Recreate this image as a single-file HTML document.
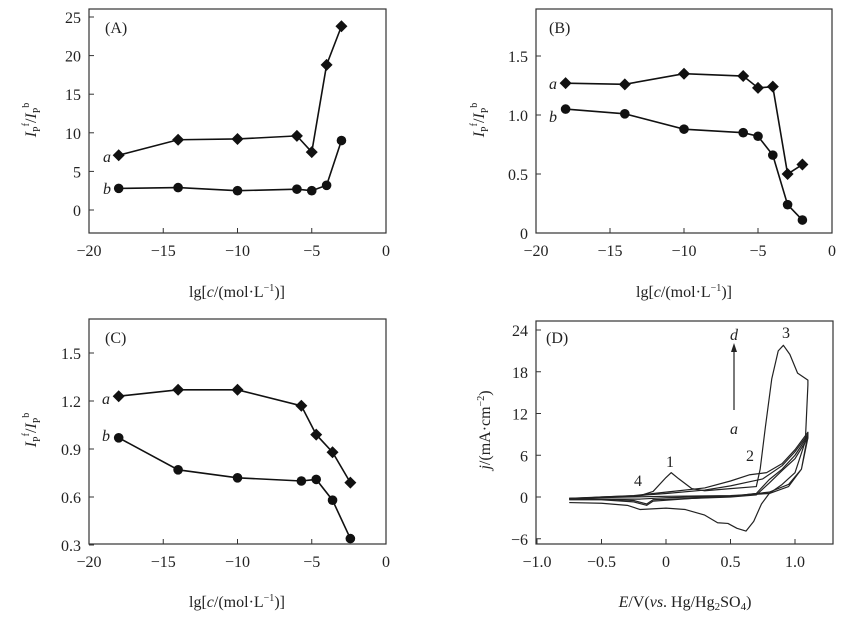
<!DOCTYPE html>
<html><head><meta charset="utf-8"><style>
html,body{margin:0;padding:0;background:#fff;}
svg{display:block;font-family:"Liberation Serif",serif;}
text{fill:#222;}
</style></head><body>
<svg id="fig" width="858" height="620" viewBox="0 0 858 620"></svg>
<script>
// ---- Data ----
const xCats = [-18, -14, -10, -6, -5, -4, -3];
const aA = [7.1, 9.1, 9.2, 9.6, 7.5, 18.8, 23.8];
const aB = [2.8, 2.9, 2.5, 2.7, 2.5, 3.2, 9.0];
const bX = [-18, -14, -10, -6, -5, -4, -3, -2];
const bA = [1.27, 1.26, 1.35, 1.33, 1.23, 1.24, 0.50, 0.58];
const bB = [1.05, 1.01, 0.88, 0.85, 0.82, 0.66, 0.24, 0.11];
const cX = [-18, -14, -10, -5.7, -4.7, -3.6, -2.4];
const cA = [1.23, 1.27, 1.27, 1.17, 0.99, 0.88, 0.69];
const cB = [0.97, 0.77, 0.72, 0.70, 0.71, 0.58, 0.34];
const xTicksLg = [-20, -15, -10, -5, 0];
const yTicksA = [0, 5, 10, 15, 20, 25];
const yTicksB = [0, 0.5, 1.0, 1.5];
const yTicksC = [0.3, 0.6, 0.9, 1.2, 1.5];
const xTicksD = [-1.0, -0.5, 0, 0.5, 1.0];
const yTicksD = [-6, 0, 6, 12, 18, 24];
const cvCurveA = [[-0.75,-0.2],[-0.3,0],[0,0.1],[0.5,0.2],[0.8,0.5],[0.95,1.5],[1.05,4],[1.1,9],[1.1,8.5],[1.05,4],[0.95,1.8],[0.8,0.7],[0.5,0.1],[0,-0.1],[-0.2,-0.3],[-0.5,-0.3],[-0.75,-0.3]];
const cvCurveB = [[-0.75,-0.2],[-0.25,0.1],[-0.15,0.3],[0,0.5],[0.3,1.0],[0.5,1.6],[0.65,2.2],[0.75,2.6],[0.9,4.5],[1.0,6.5],[1.1,9],[1.1,8.5],[1.0,5.5],[0.9,3.8],[0.8,2.0],[0.7,0.3],[0.5,0],[0.2,-0.2],[-0.1,-0.4],[-0.15,-1.0],[-0.25,-0.5],[-0.5,-0.3],[-0.75,-0.3]];
const cvCurveC = [[-0.75,-0.2],[-0.25,0.2],[-0.15,0.4],[0,0.7],[0.3,1.3],[0.5,2.3],[0.65,3.2],[0.78,3.5],[0.9,4.8],[1.0,6.8],[1.1,9.3],[1.1,8.8],[1.0,6.0],[0.9,4.0],[0.8,2.5],[0.7,0.5],[0.5,0.1],[0.2,-0.2],[-0.1,-0.6],[-0.15,-1.2],[-0.25,-0.7],[-0.5,-0.4],[-0.75,-0.4]];
const cvCurveD = [[-0.75,-0.3],[-0.5,0],[-0.2,0.2],[-0.1,0.8],[0,2.8],[0.04,3.5],[0.1,2.6],[0.2,1.2],[0.3,0.9],[0.5,1.2],[0.7,1.5],[0.73,4],[0.77,10],[0.82,17],[0.87,21],[0.91,21.8],[0.96,20.5],[1.02,17.8],[1.1,16.8],[1.1,16.1],[1.08,8],[1.0,3.5],[0.9,1.8],[0.8,0.5],[0.74,-1],[0.68,-3.5],[0.62,-4.9],[0.55,-4.5],[0.48,-3.8],[0.4,-3.7],[0.3,-2.6],[0.15,-1.8],[0,-1.6],[-0.2,-1.8],[-0.3,-1.2],[-0.5,-0.9],[-0.75,-0.8]];

const NS = "http://www.w3.org/2000/svg";
const svg = document.getElementById('fig');
function mk(tag, attrs, parent){const e=document.createElementNS(NS,tag);for(const k in attrs)e.setAttribute(k,attrs[k]);(parent||svg).appendChild(e);return e;}
function lin(d0,d1,p0,p1){return v=>p0+(v-d0)*(p1-p0)/(d1-d0);}

function panel(name, box, sx, sy, xt, yt, xfmt, yfmt){
  const g = mk('g',{});
  
  
  const r = mk('rect',{x:box[0],y:box[1],width:box[2]-box[0],height:box[3]-box[1],fill:'none',stroke:'#333','stroke-width':1.2},g);
  
  
  xt.forEach(v=>{const x=sx(v);
    mk('line',{x1:x,x2:x,y1:box[3],y2:box[3]-5,stroke:'#333'},g);
    const t=mk('text',{x:x,y:box[3]+23,'text-anchor':'middle','font-size':16},g);
    t.textContent=xfmt(v);
    
    });
  yt.forEach(v=>{const y=sy(v);
    mk('line',{x1:box[0],x2:box[0]+5,y1:y,y2:y,stroke:'#333'},g);
    const t=mk('text',{x:box[0]-8,y:y+6,'text-anchor':'end','font-size':16},g);
    t.textContent=yfmt(v);
    
    });
  return g;
}
const neg = v => (v<0?'\u2212':'')+Math.abs(v);
function series(g, xs, ys, sx, sy, marker, name){
  const pts = xs.map((x,i)=>sx(x)+','+sy(ys[i])).join(' ');
  const l = mk('polyline',{points:pts,fill:'none',stroke:'#111','stroke-width':1.6},g);
  
  
  xs.forEach((x,i)=>{const px=sx(x),py=sy(ys[i]);let m;
    if(marker==='d') m=mk('polygon',{points:`${px},${py-6} ${px+6},${py} ${px},${py+6} ${px-6},${py}`,fill:'#111'},g);
    else m=mk('circle',{cx:px,cy:py,r:4.8,fill:'#111'},g);
    
    });
}
function txt(g,x,y,s,attrs,name){const t=mk('text',Object.assign({x:x,y:y,'font-size':16},attrs||{}),g);t.innerHTML=s;
  
  return t;}
function ylab(g,x,y){const t=mk('text',{x:0,y:0,transform:`translate(${x},${y}) rotate(-90)`,'text-anchor':'middle','font-size':16},g);
  t.innerHTML='<tspan font-style="italic">I</tspan><tspan font-size="10" dy="4">P</tspan><tspan font-size="10" dy="-11">f</tspan><tspan dy="7">/</tspan><tspan font-style="italic">I</tspan><tspan font-size="10" dy="4">P</tspan><tspan font-size="10" dy="-11">b</tspan>';
  
  }
const xl = '<tspan>lg[</tspan><tspan font-style="italic">c</tspan><tspan>/(mol·L</tspan><tspan font-size="10" dy="-6">−1</tspan><tspan dy="6">)]</tspan>';

// Panel A
{const box=[89,9,386,233];const sx=lin(-20,0,89,386),sy=lin(0,25,210,17);
 const g=panel('panel-a',box,sx,sy,xTicksLg,yTicksA,neg,neg);
 series(g,xCats,aA,sx,sy,'d','series-a');series(g,xCats,aB,sx,sy,'c','series-b');
 txt(g,105,33,'(A)',{},'panel-label');
 txt(g,103,162,'a',{'font-style':'italic'},'series-label-a');
 txt(g,103,194,'b',{'font-style':'italic'},'series-label-b');
 ylab(g,36,120);txt(g,237,297,xl,{'text-anchor':'middle'},'x-axis-title');}
// Panel B
{const box=[536,9,832,233];const sx=lin(-20,0,536,832),sy=lin(0,1.5,233,56);
 const g=panel('panel-b',box,sx,sy,xTicksLg,yTicksB,neg,v=>v===0?'0':v.toFixed(1));
 series(g,bX,bA,sx,sy,'d','series-a');series(g,bX,bB,sx,sy,'c','series-b');
 txt(g,549,33,'(B)',{},'panel-label');
 txt(g,549,89,'a',{'font-style':'italic'},'series-label-a');
 txt(g,549,122,'b',{'font-style':'italic'},'series-label-b');
 ylab(g,484,120);txt(g,684,297,xl,{'text-anchor':'middle'},'x-axis-title');}
// Panel C
{const box=[89,319,386,544];const sx=lin(-20,0,89,386),sy=lin(0.6,1.5,497,353);
 const g=panel('panel-c',box,sx,sy,xTicksLg,yTicksC,neg,v=>v.toFixed(1));
 series(g,cX,cA,sx,sy,'d','series-a');series(g,cX,cB,sx,sy,'c','series-b');
 txt(g,105,343,'(C)',{},'panel-label');
 txt(g,102,404,'a',{'font-style':'italic'},'series-label-a');
 txt(g,102,441,'b',{'font-style':'italic'},'series-label-b');
 ylab(g,36,430);txt(g,237,607,xl,{'text-anchor':'middle'},'x-axis-title');}
// Panel D
{const box=[536,321,833,544];const sx=lin(-1,1,537,795),sy=lin(0,24,497,330);
 const g=panel('panel-d',box,sx,sy,xTicksD,yTicksD,v=>(v<0?'\u2212':'')+(v===0?'0':Math.abs(v).toFixed(1)),neg);
 [cvCurveA,cvCurveB,cvCurveC,cvCurveD].forEach((c,i)=>{
   const p=mk('polyline',{points:c.map(q=>sx(q[0])+','+sy(q[1])).join(' '),fill:'none',stroke:'#222','stroke-width':1.2,'stroke-linejoin':'round'},g);
   
   });
 txt(g,546,343,'(D)',{},'panel-label');
 const ar=mk('line',{x1:734,y1:410,x2:734,y2:350,stroke:'#222','stroke-width':1.2},g);
 
 
 mk('polygon',{points:'734,343 731,352 737,352',fill:'#222'},g);
 txt(g,730,340,'d',{'font-style':'italic'},'curve-label-d');
 txt(g,730,434,'a',{'font-style':'italic'},'curve-label-a');
 txt(g,666,467,'1',{},'peak-label-1');
 txt(g,746,461,'2',{},'peak-label-2');
 txt(g,782,338,'3',{},'peak-label-3');
 txt(g,634,486,'4',{},'peak-label-4');
 const t=mk('text',{x:0,y:0,transform:'translate(490,430) rotate(-90)','text-anchor':'middle','font-size':16},g);
 t.innerHTML='<tspan font-style="italic">j</tspan>/(mA·cm<tspan font-size="10" dy="-6">−2</tspan><tspan dy="6">)</tspan>';
 
 
 txt(g,685,607,'<tspan font-style="italic">E</tspan>/V(<tspan font-style="italic">vs</tspan>. Hg/Hg<tspan font-size="11" dy="3">2</tspan><tspan dy="-3">SO</tspan><tspan font-size="11" dy="3">4</tspan><tspan dy="-3">)</tspan>',{'text-anchor':'middle'},'x-axis-title');}
</script>
</body></html>
